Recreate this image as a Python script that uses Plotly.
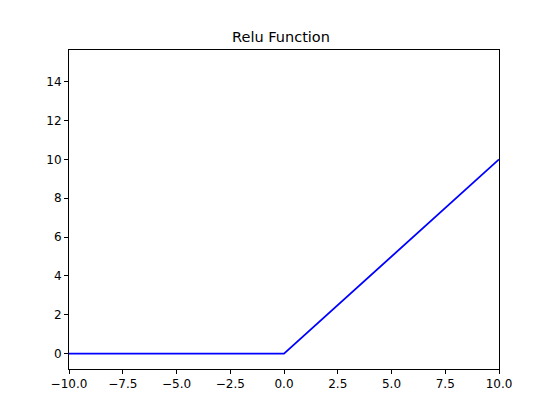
import plotly.graph_objects as go

x_vals = [-10.0, 0.0, 10.0]
y_vals = [0.0, 0.0, 10.0]
x_ticks = [-10.0, -7.5, -5.0, -2.5, 0.0, 2.5, 5.0, 7.5, 10.0]
x_ticktext = ["\u221210.0", "\u22127.5", "\u22125.0", "\u22122.5", "0.0", "2.5", "5.0", "7.5", "10.0"]
y_ticks = [0, 2, 4, 6, 8, 10, 12, 14]
y_ticktext = [str(v) for v in y_ticks]
title = "Relu Function"

W, H = 546, 407

fig = go.Figure()
fig.add_trace(go.Scatter(x=x_vals, y=y_vals, mode="lines",
                         line=dict(color="#0000ff", width=1.8), showlegend=False))

axis_common = dict(showline=True, mirror=True, linecolor="black", linewidth=1,
                   ticks="outside", ticklen=4, tickwidth=1, tickcolor="black",
                   showgrid=False, zeroline=False,
                   tickfont=dict(family="DejaVu Sans", size=12, color="black"))

fig.update_layout(
    width=W, height=H,
    margin=dict(l=61, r=55, t=42, b=46),
    paper_bgcolor="white", plot_bgcolor="white",
    title=dict(text=title, x=0.5, xanchor="center", y=1 - 29 / H, yanchor="middle",
               font=dict(family="DejaVu Sans", size=14.5, color="black")),
    xaxis=dict(range=[-10, 10], tickvals=x_ticks, ticktext=x_ticktext, **axis_common),
    yaxis=dict(range=[-0.79, 15.63], tickvals=y_ticks, ticktext=y_ticktext, **axis_common),
)

fig.write_html("out.html")
